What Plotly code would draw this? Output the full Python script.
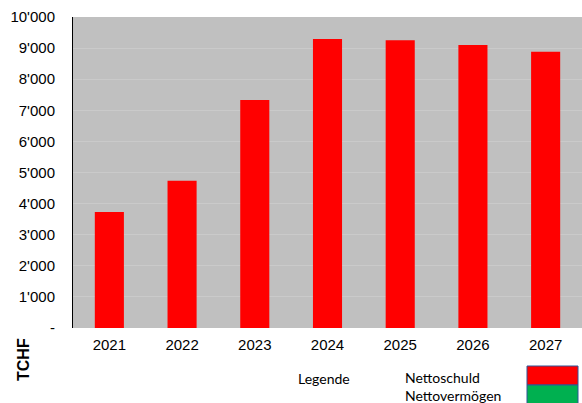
import plotly.graph_objects as go

years = ["2021", "2022", "2023", "2024", "2025", "2026", "2027"]
nettoschuld = [3730, 4736, 7331, 9293, 9251, 9100, 8884]
y_tick_vals = [0, 1000, 2000, 3000, 4000, 5000, 6000, 7000, 8000, 9000, 10000]
y_tick_text = ["-", "1'000", "2'000", "3'000", "4'000", "5'000", "6'000",
               "7'000", "8'000", "9'000", "10'000"]

W, H = 582, 403
ML, MR, MT, MB = 73, 0, 17, 75

fig = go.Figure()
fig.add_trace(go.Bar(x=years, y=nettoschuld, marker=dict(color="#ff0000", line=dict(width=0)),
                     width=0.4, showlegend=False))

def px_x(p):
    return (p - ML) / (W - ML - MR)

def px_y(p):
    return (H - MB - p) / (H - MT - MB)

shapes = [
    dict(type="rect", xref="paper", yref="paper", x0=px_x(527), x1=px_x(578), y0=px_y(385), y1=px_y(366),
         fillcolor="#ff0000", line=dict(color="#2f5597", width=1)),
    dict(type="rect", xref="paper", yref="paper", x0=px_x(527), x1=px_x(578), y0=px_y(404), y1=px_y(385),
         fillcolor="#00b050", line=dict(color="#2f5597", width=1)),
]

leg_font = dict(family="Lato, Liberation Sans, sans-serif", size=14, color="#000")
annotations = [
    dict(text="<b>TCHF</b>", textangle=-90, xref="paper", yref="paper", x=px_x(23.5), y=px_y(359.5),
         showarrow=False, font=dict(size=16, color="#000"), xanchor="center", yanchor="middle"),
    dict(text="Legende", xref="paper", yref="paper", x=px_x(296), y=px_y(378), showarrow=False,
         font=leg_font, xanchor="left", yanchor="middle"),
    dict(text="Nettoschuld", xref="paper", yref="paper", x=px_x(403), y=px_y(377), showarrow=False,
         font=leg_font, xanchor="left", yanchor="middle"),
    dict(text="Nettovermögen", xref="paper", yref="paper", x=px_x(403), y=px_y(395), showarrow=False,
         font=leg_font, xanchor="left", yanchor="middle"),
]

fig.update_layout(
    width=W, height=H,
    margin=dict(l=ML, r=MR, t=MT, b=MB),
    paper_bgcolor="white",
    plot_bgcolor="#c0c0c0",
    font=dict(family="Liberation Sans, Arial, sans-serif", color="#000", size=15),
    shapes=shapes,
    annotations=annotations,
    xaxis=dict(showgrid=False, showline=False, zeroline=False, ticks="",
               ticklabelstandoff=6, tickfont=dict(size=15)),
    yaxis=dict(range=[0, 10000], tickvals=y_tick_vals, ticktext=y_tick_text,
               showgrid=True, gridcolor="#cacaca", gridwidth=1, zeroline=False,
               showline=True, linecolor="#000", linewidth=1, ticks="",
               ticklabelstandoff=14, tickfont=dict(size=15)),
)

fig.write_html("out.html")
